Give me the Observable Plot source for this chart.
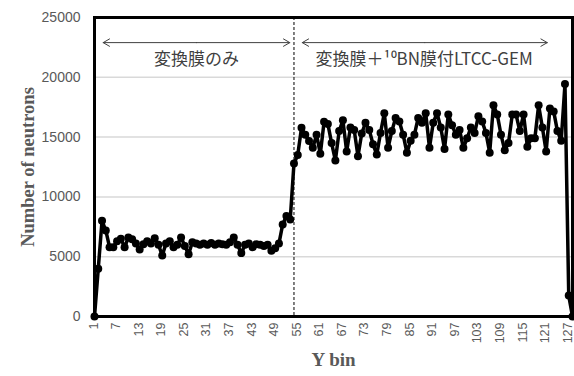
<!DOCTYPE html>
<html>
<head>
<meta charset="utf-8">
<script src="https://cdn.jsdelivr.net/npm/d3@7"></script>
<script src="https://cdn.jsdelivr.net/npm/@observablehq/plot@0.6"></script>
<style>
  html, body { margin: 0; padding: 0; background: #fff; }
</style>
</head>
<body>
<div id="chart"></div>
<script>
const counts = [
  0, 4000, 8000, 7200, 5800, 5800, 6300, 6500, 5800, 6600,
  6450, 6100, 5600, 6050, 6300, 6100, 6550, 6000, 5100, 6100,
  6300, 5800, 6000, 6600, 5900, 5200, 6200, 6100, 6000, 6100,
  6000, 6150, 6000, 6100, 6050, 6000, 6200, 6600, 6000, 5300,
  6000, 6100, 5800, 6050, 6000, 5900, 6000, 5500, 5700, 6100,
  7700, 8400, 8100, 12800, 13500, 15780, 15200, 14670, 14100, 15200,
  13600, 16280, 16100, 14500, 13050, 15500, 16400, 13800, 15800, 15600,
  13400, 15300, 16200, 15600, 14400, 13550, 15350, 17000, 14100, 15500,
  16600, 16300, 15200, 13700, 14700, 15200, 16600, 16200, 17000, 14100,
  16200, 17000, 15800, 14000, 16900, 16000, 15200, 15600, 14100, 14900,
  15800, 15350, 16750, 16300, 15350, 13700, 17670, 16900, 15200, 13900,
  14500, 16900, 16900, 15500, 16900, 14200, 14900, 14900, 17670, 15800,
  13800, 17400, 17150, 15500, 14700, 19440, 1750, 0
];
const bins = counts.map((_, i) => i + 1);
const xTicks = d3.range(1, 128, 6);
const yTicks = [0, 5000, 10000, 15000, 20000, 25000];
const gridValues = [5000, 10000, 15000, 20000];
const boundaryBin = [54];
const labelTexts = ["変換膜のみ", "変換膜＋¹⁰BN膜付LTCC-GEM"];
const region1 = {x1: 3.3, x2: 52.9, mid: 28.1, textX: 28.1};
const region2 = {x1: 56.2, x2: 121.3, mid: 88.75, textX: 88.6};
const arrowY = 22900;
const textY = 21480;

const data = bins.map((b, i) => ({bin: b, n: counts[i]}));
const arrows = [
  {x1: region1.mid, x2: region1.x1}, {x1: region1.mid, x2: region1.x2},
  {x1: region2.mid, x2: region2.x1}, {x1: region2.mid, x2: region2.x2}
];
const texts = [
  {x: region1.textX, t: labelTexts[0]},
  {x: region2.textX, t: labelTexts[1]}
];

const chart = Plot.plot({
  width: 574,
  height: 376,
  marginLeft: 94,
  marginRight: 2,
  marginTop: 17,
  marginBottom: 60,
  style: {background: "#fff", fontFamily: "Liberation Sans, Arial, sans-serif"},
  x: {domain: [1, 128], ticks: xTicks, tickFormat: d => String(d)},
  y: {domain: [0, 25000], ticks: yTicks},
  marks: [
    Plot.ruleY(gridValues, {stroke: "#d9d9d9", strokeWidth: 1.5}),
    Plot.ruleX(boundaryBin, {stroke: "#000", strokeWidth: 1, strokeDasharray: "3,2"}),
    Plot.axisX({ticks: xTicks, tickSize: 0, tickPadding: 6, tickRotate: -90, fontSize: 12.5, fill: "#595959", label: null, dx: -1, tickFormat: d => String(d)}),
    Plot.axisY({ticks: yTicks, tickSize: 0, tickPadding: 14, fontSize: 14, fill: "#595959", label: null, tickFormat: d3.format("d")}),
    Plot.line(data, {x: "bin", y: "n", stroke: "#000", strokeWidth: 3.5}),
    Plot.dot(data, {x: "bin", y: "n", r: 4, fill: "#000"}),
    Plot.frame({stroke: "#000", strokeWidth: 3}),
    Plot.arrow(arrows, {x1: "x1", x2: "x2", y1: () => arrowY, y2: () => arrowY, stroke: "#404040", strokeWidth: 1, headLength: 11, headAngle: 60}),
    Plot.text(texts, {x: "x", y: () => textY, text: "t", fontSize: 17, fill: "#404040", fontFamily: "Noto Sans CJK JP"}),
    Plot.text(["Number of neutrons"], {frameAnchor: "left", textAnchor: "middle", dx: -66, rotate: -90, fontSize: 18.5, fontWeight: "bold", fontFamily: "Liberation Serif, Times New Roman, serif", fill: "#595959"}),
    Plot.text(["Y bin"], {frameAnchor: "bottom", dy: 49, fontSize: 19, fontWeight: "bold", fontFamily: "Liberation Serif, Times New Roman, serif", fill: "#595959"})
  ]
});
document.getElementById("chart").appendChild(chart);
</script>
</body>
</html>
